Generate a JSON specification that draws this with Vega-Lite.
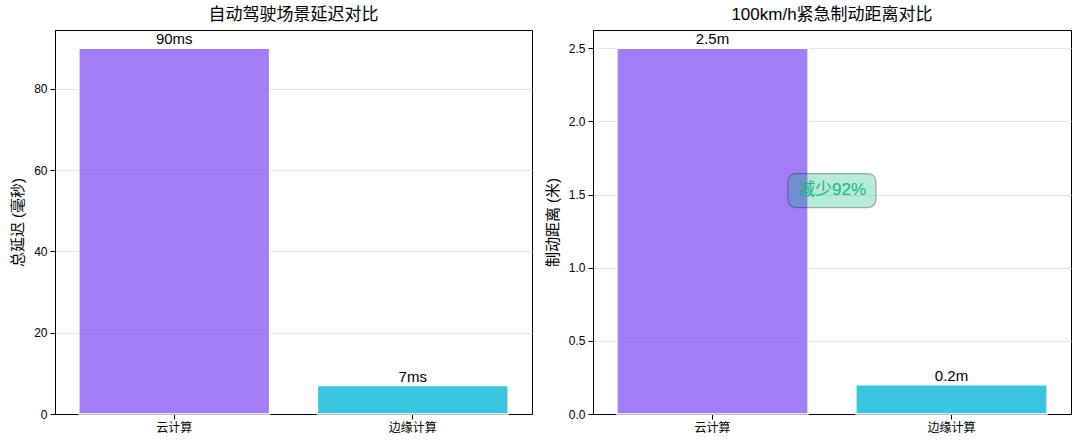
{
  "$schema": "https://vega.github.io/schema/vega-lite/v6.json",
  "padding": {"left": 10, "top": 5, "right": 5, "bottom": 5},
  "hconcat": [
    {
      "width": 477,
      "height": 384,
      "title": "自动驾驶场景延迟对比",
      "data": {
        "values": [
          {"platform": "云计算", "value": 90, "label": "90ms"},
          {"platform": "边缘计算", "value": 7, "label": "7ms"}
        ]
      },
      "encoding": {
        "x": {
          "field": "platform", "type": "nominal", "sort": null,
          "scale": {"paddingInner": 0.2, "paddingOuter": 0.1},
          "axis": {"title": null, "labelAngle": 0}
        },
        "y": {
          "field": "value", "type": "quantitative",
          "scale": {"domain": [0, 94.5], "nice": false},
          "axis": {"title": "总延迟 (毫秒)", "values": [0, 20, 40, 60, 80]}
        }
      },
      "layer": [
        {
          "mark": {"type": "bar", "fillOpacity": 0.8, "stroke": "white", "strokeWidth": 1.5},
          "encoding": {
            "color": {
              "field": "platform", "type": "nominal", "legend": null,
              "scale": {"domain": ["云计算", "边缘计算"], "range": ["#8b5cf6", "#06b6d4"]}
            }
          }
        },
        {
          "mark": {"type": "text", "baseline": "bottom", "dy": -1, "fontSize": 15, "color": "black"},
          "encoding": {"text": {"field": "label"}}
        }
      ]
    },
    {
      "width": 478,
      "height": 384,
      "title": "100km/h紧急制动距离对比",
      "layer": [
        {
          "data": {
            "values": [
              {"platform": "云计算", "value": 2.5, "label": "2.5m"},
              {"platform": "边缘计算", "value": 0.2, "label": "0.2m"}
            ]
          },
          "encoding": {
            "x": {
              "field": "platform", "type": "nominal", "sort": null,
              "scale": {"paddingInner": 0.2, "paddingOuter": 0.1},
              "axis": {"title": null, "labelAngle": 0}
            },
            "y": {
              "field": "value", "type": "quantitative",
              "scale": {"domain": [0, 2.625], "nice": false},
              "axis": {"title": "制动距离 (米)", "values": [0, 0.5, 1, 1.5, 2, 2.5], "format": ".1f"}
            }
          },
          "layer": [
            {
              "mark": {"type": "bar", "fillOpacity": 0.8, "stroke": "white", "strokeWidth": 1.5},
              "encoding": {
                "color": {
                  "field": "platform", "type": "nominal", "legend": null,
                  "scale": {"domain": ["云计算", "边缘计算"], "range": ["#8b5cf6", "#06b6d4"]}
                }
              }
            },
            {
              "mark": {"type": "text", "baseline": "bottom", "dy": -1, "fontSize": 15, "color": "black"},
              "encoding": {"text": {"field": "label"}}
            }
          ]
        },
        {
          "data": {"values": [{"value": 1.5, "note": "减少92%"}]},
          "encoding": {
            "y": {"field": "value", "type": "quantitative", "scale": {"domain": [0, 2.625], "nice": false}}
          },
          "layer": [
            {
              "mark": {
                "type": "point",
                "shape": "M -0.82 -0.386 L 0.82 -0.386 A 0.18 0.18 0 0 1 1 -0.206 L 1 0.206 A 0.18 0.18 0 0 1 0.82 0.386 L -0.82 0.386 A 0.18 0.18 0 0 1 -1 0.206 L -1 -0.206 A 0.18 0.18 0 0 1 -0.82 -0.386 Z",
                "size": 7744,
                "filled": true,
                "fill": "#10b981",
                "fillOpacity": 0.3,
                "stroke": "black",
                "strokeOpacity": 0.3,
                "strokeWidth": 1.2,
                "opacity": 1,
                "yOffset": -4
              }
            },
            {
              "mark": {"type": "text", "fontSize": 17, "color": "#10b981", "align": "center", "baseline": "middle", "dy": -5},
              "encoding": {"text": {"field": "note"}}
            }
          ]
        }
      ]
    }
  ],
  "config": {
    "font": "Liberation Sans, Noto Sans CJK SC",
    "view": {"stroke": "black", "strokeWidth": 1},
    "concat": {"spacing": 11},
    "axis": {
      "domainColor": "black",
      "tickColor": "black",
      "labelColor": "black",
      "titleColor": "black",
      "labelFontSize": 12,
      "titleFontSize": 15,
      "titleFontWeight": "normal",
      "gridColor": "#e6e6e6",
      "gridWidth": 1,
      "tickSize": 5,
      "labelPadding": 3,
      "titlePadding": 8
    },
    "axisX": {"grid": false},
    "title": {"fontSize": 17, "fontWeight": "normal", "color": "black", "offset": 6}
  }
}
